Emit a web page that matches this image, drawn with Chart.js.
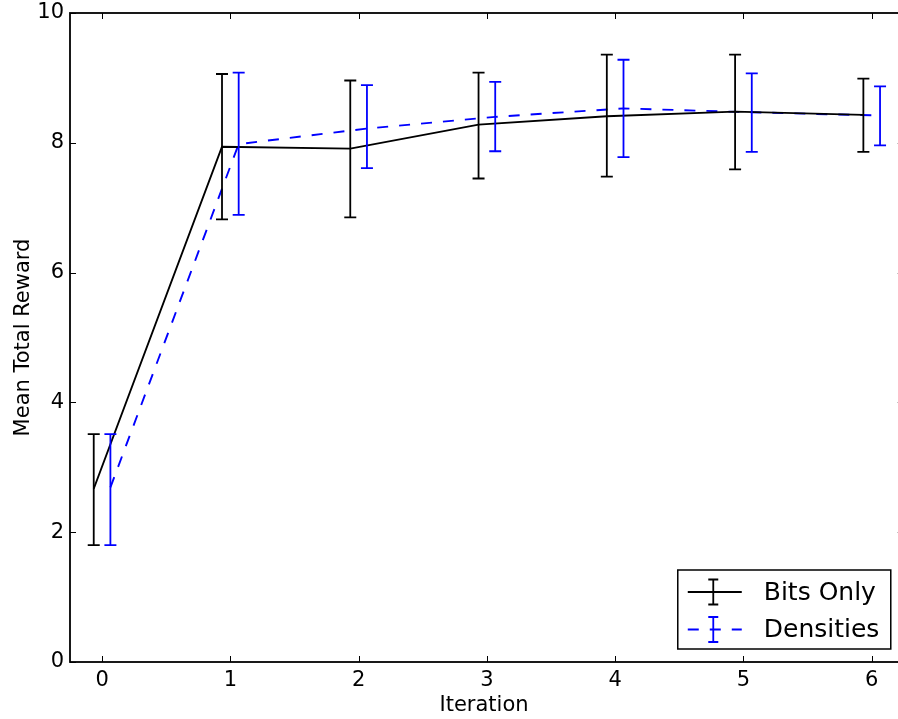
<!DOCTYPE html>
<html>
<head>
<meta charset="utf-8">
<script src="https://cdn.jsdelivr.net/npm/chart.js@4.4.1/dist/chart.umd.min.js"></script>
<style>
  html, body { margin: 0; padding: 0; background: #fff; overflow: hidden; }
  #wrap { width: 898px; height: 719px; position: relative; }
</style>
</head>
<body>
<div id="wrap"><canvas id="c" width="898" height="719"></canvas></div>
<script>
// ---- data ----
const iterations = [0, 1, 2, 3, 4, 5, 6];
const bitsMean = [2.67, 7.94, 7.91, 8.28, 8.41, 8.48, 8.43];
const bitsLow  = [1.80, 6.82, 6.85, 7.45, 7.48, 7.59, 7.86];
const bitsHigh = [3.51, 9.06, 8.96, 9.08, 9.36, 9.36, 8.99];
const densMean = [2.69, 7.98, 8.22, 8.40, 8.53, 8.47, 8.42];
const densLow  = [1.80, 6.89, 7.61, 7.87, 7.78, 7.86, 7.96];
const densHigh = [3.51, 9.08, 8.89, 8.94, 9.28, 9.07, 8.87];
const xTickValues = [0, 1, 2, 3, 4, 5, 6];
const yTickValues = [0, 2, 4, 6, 8, 10];
const seriesNames = ['Bits Only', 'Densities'];
const bitsOffset = -0.065;
const densOffset = 0.065;
const xFullMax = 6.25;   // axis limit of the original figure (right spine lies just outside the picture)

const FONT = "'DejaVu Sans', 'Liberation Sans', sans-serif";

const series = [
  { name: seriesNames[0], mean: bitsMean, low: bitsLow, high: bitsHigh, off: bitsOffset, color: '#000000', dash: [] },
  { name: seriesNames[1], mean: densMean, low: densLow, high: densHigh, off: densOffset, color: '#0000ff', dash: [11, 11] }
];

const errorBarPlugin = {
  id: 'errorBars',
  afterDatasetsDraw(chart) {
    const ctx = chart.ctx, xs = chart.scales.x, ys = chart.scales.y;
    ctx.save();
    series.forEach(s => {
      ctx.strokeStyle = s.color;
      ctx.lineWidth = 1.8;
      ctx.setLineDash([]);
      iterations.forEach((it, i) => {
        const px = xs.getPixelForValue(it + s.off);
        const pt = ys.getPixelForValue(s.high[i]);
        const pb = ys.getPixelForValue(s.low[i]);
        const cw = 6;
        ctx.beginPath();
        ctx.moveTo(px, pt); ctx.lineTo(px, pb);
        ctx.moveTo(px - cw, pt); ctx.lineTo(px + cw, pt);
        ctx.moveTo(px - cw, pb); ctx.lineTo(px + cw, pb);
        ctx.stroke();
      });
    });
    ctx.restore();
  }
};

const framePlugin = {
  id: 'frame',
  afterDraw(chart) {
    const ctx = chart.ctx, a = chart.chartArea, xs = chart.scales.x, ys = chart.scales.y;
    const rightEdge = xs.getPixelForValue(xFullMax);
    ctx.save();
    // inward ticks
    ctx.strokeStyle = '#000';
    ctx.lineWidth = 1;
    const tl = 6;
    ctx.beginPath();
    xTickValues.forEach(v => {
      const px = Math.round(xs.getPixelForValue(v)) + 0.5;
      ctx.moveTo(px, a.bottom); ctx.lineTo(px, a.bottom - tl);
      ctx.moveTo(px, a.top); ctx.lineTo(px, a.top + tl);
    });
    yTickValues.forEach(v => {
      const py = Math.round(ys.getPixelForValue(v)) + 0.5;
      ctx.moveTo(a.left, py); ctx.lineTo(a.left + tl, py);
      ctx.moveTo(rightEdge, py); ctx.lineTo(rightEdge - tl, py);
    });
    ctx.stroke();
    // spines
    ctx.lineWidth = 1.8;
    ctx.strokeRect(a.left, a.top, rightEdge - a.left, a.bottom - a.top);

    // legend
    const bx = rightEdge - 226, by = a.bottom - 92, bw = 213, bh = 79;
    ctx.fillStyle = '#fff';
    ctx.fillRect(bx, by, bw, bh);
    ctx.lineWidth = 1.5;
    ctx.strokeStyle = '#000';
    ctx.strokeRect(bx, by, bw, bh);
    series.forEach((s, k) => {
      const cy = by + 22 + k * 37.5;
      const x0 = bx + 10, x1 = bx + 64, xm = bx + 35.5;
      ctx.strokeStyle = s.color;
      ctx.lineWidth = 1.8;
      ctx.setLineDash(s.dash);
      ctx.beginPath();
      ctx.moveTo(x0, cy); ctx.lineTo(x1, cy);
      ctx.stroke();
      ctx.setLineDash([]);
      ctx.beginPath();
      ctx.moveTo(xm, cy - 12.5); ctx.lineTo(xm, cy + 12.5);
      ctx.moveTo(xm - 5, cy - 12.5); ctx.lineTo(xm + 5, cy - 12.5);
      ctx.moveTo(xm - 5, cy + 12.5); ctx.lineTo(xm + 5, cy + 12.5);
      ctx.stroke();
      ctx.fillStyle = '#000';
      ctx.font = '25px ' + FONT;
      ctx.textAlign = 'left';
      ctx.textBaseline = 'middle';
      ctx.fillText(s.name, bx + 86, cy + 1);
    });
    ctx.restore();
  }
};

new Chart(document.getElementById('c'), {
  type: 'line',
  data: {
    datasets: series.map(s => ({
      label: s.name,
      data: iterations.map((it, i) => ({ x: it + s.off, y: s.mean[i] })),
      borderColor: s.color,
      backgroundColor: s.color,
      borderWidth: 1.9,
      borderDash: s.dash,
      pointRadius: 0,
      tension: 0,
      fill: false
    }))
  },
  options: {
    responsive: false,
    animation: false,
    devicePixelRatio: 1,
    layout: { padding: { top: 13, right: 0, left: 0, bottom: 0 } },
    plugins: { legend: { display: false }, tooltip: { enabled: false } },
    scales: {
      x: {
        type: 'linear',
        min: -0.25, max: 6.205,
        grid: { display: false, drawTicks: false },
        border: { display: false },
        afterBuildTicks(scale) { scale.ticks = xTickValues.map(v => ({ value: v })); },
        afterFit(scale) { scale.height = 57; },
        ticks: { color: '#000', font: { family: FONT, size: 21, lineHeight: 1 }, padding: 8, maxRotation: 0 },
        title: { display: true, text: 'Iteration', color: '#000', font: { family: FONT, size: 21 }, padding: { top: 0, bottom: 1 } }
      },
      y: {
        type: 'linear',
        min: 0, max: 10,
        grid: { display: false, drawTicks: false },
        border: { display: false },
        afterBuildTicks(scale) { scale.ticks = yTickValues.map(v => ({ value: v })); },
        afterFit(scale) { scale.width = 70; scale.paddingTop = 0; scale.paddingBottom = 0; },
        ticks: { color: '#000', font: { family: FONT, size: 21, lineHeight: 1 }, padding: 6 },
        title: { display: true, text: 'Mean Total Reward', color: '#000', font: { family: FONT, size: 21 }, padding: { top: 11, bottom: 0 } }
      }
    }
  },
  plugins: [errorBarPlugin, framePlugin]
});
</script>
</body>
</html>
